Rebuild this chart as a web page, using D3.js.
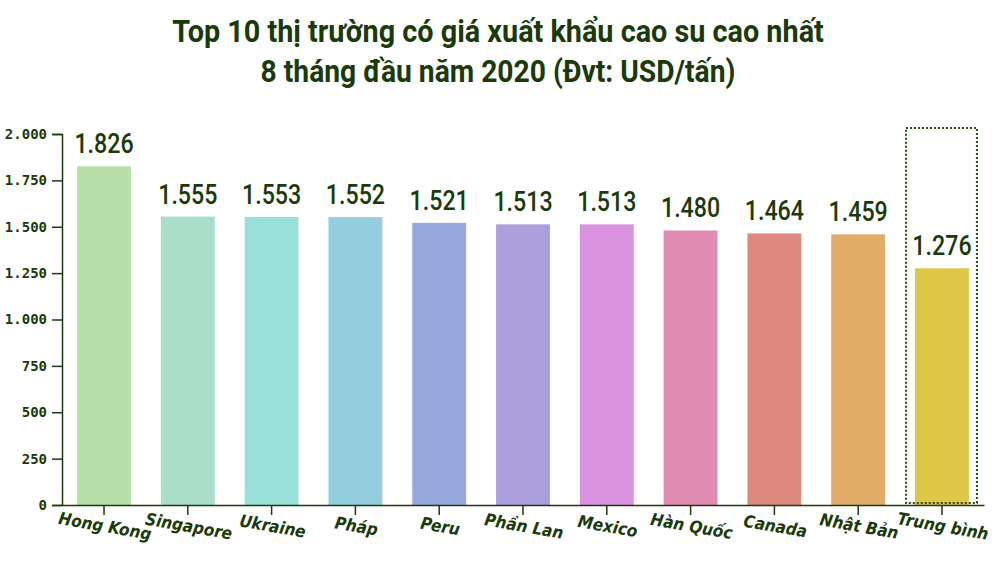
<!DOCTYPE html>
<html>
<head>
<meta charset="utf-8">
<title>Top 10 thị trường có giá xuất khẩu cao su cao nhất</title>
<style>
  body { margin: 0; background: #fff; }
  svg { display: block; }
  .title { font-family: Roboto, "DejaVu Sans Condensed", sans-serif; font-weight: bold; font-size: 31px; fill: #1b3a0a; }
  .yaxis .tick text { font-family: "DejaVu Sans Mono", monospace; font-size: 14px; font-weight: bold; fill: #1b3a0a; }
  .value { font-family: Roboto, "DejaVu Sans Condensed", sans-serif; font-weight: 500; font-size: 27px; fill: #1b3a0a; }
  .xaxis .tick text { font-family: "DejaVu Sans Condensed", sans-serif; font-weight: bold; font-style: italic; font-size: 17px; fill: #1b3a0a; }
</style>
</head>
<body>
<svg id="chart" width="995" height="563"></svg>
<script src="https://cdn.jsdelivr.net/npm/d3@7/dist/d3.min.js"></script>
<script>
var categories = ["Hong Kong", "Singapore", "Ukraine", "Pháp", "Peru", "Phần Lan", "Mexico", "Hàn Quốc", "Canada", "Nhật Bản", "Trung bình"];
var values = [1826, 1555, 1553, 1552, 1521, 1513, 1513, 1480, 1464, 1459, 1276];
var colors = ["#b8dfaa", "#a9decb", "#99e0d9", "#93cdde", "#96a8dc", "#ab9fdc", "#d992df", "#e08bb2", "#de897e", "#e1ac67", "#dec647"];
var yTicks = [0, 250, 500, 750, 1000, 1250, 1500, 1750, 2000];
var titleLines = ["Top 10 thị trường có giá xuất khẩu cao su cao nhất", "8 tháng đầu năm 2020 (Đvt: USD/tấn)"];
var titleWidths = [652, 475];

var ink = "#1b3a0a";
var svg = d3.select("#chart");

var x = d3.scaleBand()
  .domain(categories)
  .range([62, 984])
  .paddingInner(0.357)
  .paddingOuter(0.18);

var y = d3.scaleLinear()
  .domain([0, 2000])
  .range([505, 134]);

var fmt = function (v) { return d3.format(",")(v).replace(/,/g, "."); };

// title, squeezed to look condensed
svg.selectAll(".title")
  .data(titleLines)
  .enter().append("text")
  .attr("class", "title")
  .attr("text-anchor", "middle")
  .text(function (d) { return d; })
  .each(function (d, i) {
    var w = this.getComputedTextLength();
    d3.select(this).attr("transform",
      "translate(498," + (42 + i * 40) + ") scale(" + (titleWidths[i] / w) + ",1)");
  });

// bars
svg.selectAll(".bar")
  .data(values)
  .enter().append("rect")
  .attr("class", "bar")
  .attr("x", function (d, i) { return x(categories[i]); })
  .attr("y", function (d) { return y(d); })
  .attr("width", x.bandwidth())
  .attr("height", function (d) { return y(0) - y(d); })
  .attr("fill", function (d, i) { return colors[i]; });

// value labels
svg.selectAll(".value")
  .data(values)
  .enter().append("text")
  .attr("class", "value")
  .attr("text-anchor", "middle")
  .attr("transform", function (d, i) {
    return "translate(" + (x(categories[i]) + x.bandwidth() / 2) + "," + (y(d) - 13) + ") scale(0.86,1)";
  })
  .text(fmt);

// dotted box round the average
var last = categories[categories.length - 1];
svg.append("rect")
  .attr("x", x(last) - 9)
  .attr("y", 128)
  .attr("width", x.bandwidth() + 17)
  .attr("height", y(0) - 2 - 128)
  .attr("fill", "none")
  .attr("stroke", "#2a4a1a")
  .attr("stroke-width", 2)
  .attr("stroke-dasharray", "2,2");

// y axis
var yAxis = svg.append("g")
  .attr("class", "yaxis")
  .attr("transform", "translate(62,0)")
  .call(d3.axisLeft(y).tickValues(yTicks).tickSize(10).tickPadding(5).tickFormat(fmt));
yAxis.select(".domain").attr("stroke", ink).attr("stroke-width", 1.5);
yAxis.selectAll(".tick line").attr("stroke", ink).attr("stroke-width", 1.5);

// x axis
var xAxis = svg.append("g")
  .attr("class", "xaxis")
  .attr("transform", "translate(0,505)")
  .call(d3.axisBottom(x).tickSize(10).tickSizeOuter(0));
xAxis.select(".domain").attr("stroke", ink).attr("stroke-width", 1.5);
xAxis.selectAll(".tick line").attr("stroke", ink).attr("stroke-width", 1.5);
xAxis.selectAll(".tick text")
  .attr("y", 0)
  .attr("dy", 0)
  .attr("text-anchor", "middle")
  .attr("transform", "translate(0,27) rotate(10)");
</script>
</body>
</html>
